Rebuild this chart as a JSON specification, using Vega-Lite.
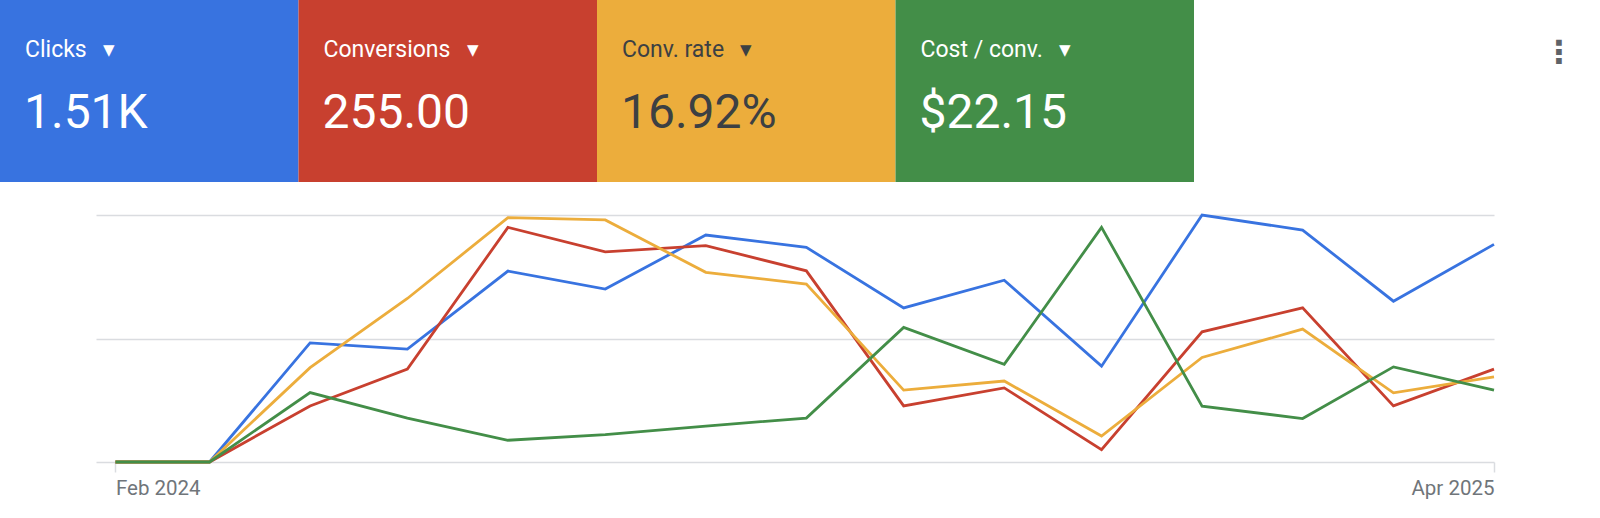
{
  "$schema": "https://vega.github.io/schema/vega-lite/v6.json",
  "background": "white",
  "padding": 0,
  "spacing": 27,
  "datasets": {
    "tiles": [
      {"metric": "Clicks", "total": "1.51K"},
      {"metric": "Conversions", "total": "255.00"},
      {"metric": "Conv. rate", "total": "16.92%"},
      {"metric": "Cost / conv.", "total": "$22.15"}
    ],
    "trend": [
      {"month": "2024-02-01", "metric": "Clicks", "value": 0},
      {"month": "2024-03-01", "metric": "Clicks", "value": 0},
      {"month": "2024-04-01", "metric": "Clicks", "value": 48.2},
      {"month": "2024-05-01", "metric": "Clicks", "value": 45.7},
      {"month": "2024-06-01", "metric": "Clicks", "value": 77.3},
      {"month": "2024-07-01", "metric": "Clicks", "value": 70.0},
      {"month": "2024-08-01", "metric": "Clicks", "value": 91.9},
      {"month": "2024-09-01", "metric": "Clicks", "value": 86.9},
      {"month": "2024-10-01", "metric": "Clicks", "value": 62.4},
      {"month": "2024-11-01", "metric": "Clicks", "value": 73.6},
      {"month": "2024-12-01", "metric": "Clicks", "value": 38.8},
      {"month": "2025-01-01", "metric": "Clicks", "value": 100},
      {"month": "2025-02-01", "metric": "Clicks", "value": 93.9},
      {"month": "2025-03-01", "metric": "Clicks", "value": 65.1},
      {"month": "2025-04-01", "metric": "Clicks", "value": 88.1},
      {"month": "2024-02-01", "metric": "Conversions", "value": 0},
      {"month": "2024-03-01", "metric": "Conversions", "value": 0},
      {"month": "2024-04-01", "metric": "Conversions", "value": 22.7},
      {"month": "2024-05-01", "metric": "Conversions", "value": 37.6},
      {"month": "2024-06-01", "metric": "Conversions", "value": 95.0},
      {"month": "2024-07-01", "metric": "Conversions", "value": 85.1},
      {"month": "2024-08-01", "metric": "Conversions", "value": 87.6},
      {"month": "2024-09-01", "metric": "Conversions", "value": 77.4},
      {"month": "2024-10-01", "metric": "Conversions", "value": 22.7},
      {"month": "2024-11-01", "metric": "Conversions", "value": 30.0},
      {"month": "2024-12-01", "metric": "Conversions", "value": 5.0},
      {"month": "2025-01-01", "metric": "Conversions", "value": 52.7},
      {"month": "2025-02-01", "metric": "Conversions", "value": 62.4},
      {"month": "2025-03-01", "metric": "Conversions", "value": 22.7},
      {"month": "2025-04-01", "metric": "Conversions", "value": 37.6},
      {"month": "2024-02-01", "metric": "Conv. rate", "value": 0},
      {"month": "2024-03-01", "metric": "Conv. rate", "value": 0},
      {"month": "2024-04-01", "metric": "Conv. rate", "value": 38.2},
      {"month": "2024-05-01", "metric": "Conv. rate", "value": 66.2},
      {"month": "2024-06-01", "metric": "Conv. rate", "value": 98.9},
      {"month": "2024-07-01", "metric": "Conv. rate", "value": 98.0},
      {"month": "2024-08-01", "metric": "Conv. rate", "value": 76.8},
      {"month": "2024-09-01", "metric": "Conv. rate", "value": 72.0},
      {"month": "2024-10-01", "metric": "Conv. rate", "value": 29.1},
      {"month": "2024-11-01", "metric": "Conv. rate", "value": 32.8},
      {"month": "2024-12-01", "metric": "Conv. rate", "value": 10.5},
      {"month": "2025-01-01", "metric": "Conv. rate", "value": 42.3},
      {"month": "2025-02-01", "metric": "Conv. rate", "value": 53.8},
      {"month": "2025-03-01", "metric": "Conv. rate", "value": 28.0},
      {"month": "2025-04-01", "metric": "Conv. rate", "value": 34.5},
      {"month": "2024-02-01", "metric": "Cost / conv.", "value": 0},
      {"month": "2024-03-01", "metric": "Cost / conv.", "value": 0},
      {"month": "2024-04-01", "metric": "Cost / conv.", "value": 28.1},
      {"month": "2024-05-01", "metric": "Cost / conv.", "value": 17.8},
      {"month": "2024-06-01", "metric": "Cost / conv.", "value": 8.8},
      {"month": "2024-07-01", "metric": "Cost / conv.", "value": 11.1},
      {"month": "2024-08-01", "metric": "Cost / conv.", "value": 14.5},
      {"month": "2024-09-01", "metric": "Cost / conv.", "value": 17.8},
      {"month": "2024-10-01", "metric": "Cost / conv.", "value": 54.5},
      {"month": "2024-11-01", "metric": "Cost / conv.", "value": 39.5},
      {"month": "2024-12-01", "metric": "Cost / conv.", "value": 95.0},
      {"month": "2025-01-01", "metric": "Cost / conv.", "value": 22.6},
      {"month": "2025-02-01", "metric": "Cost / conv.", "value": 17.6},
      {"month": "2025-03-01", "metric": "Cost / conv.", "value": 38.5},
      {"month": "2025-04-01", "metric": "Cost / conv.", "value": 29.1}
    ]
  },
  "vconcat": [
    {
      "spacing": 0,
      "hconcat": [
        {
          "width": 1194,
          "height": 182,
          "data": {"name": "tiles"},
          "transform": [{"calculate": "datum.metric + '\u2002\u2009▾'", "as": "label"}],
          "encoding": {
            "x": {
              "field": "metric",
              "type": "nominal",
              "sort": null,
              "scale": {"paddingInner": 0, "paddingOuter": 0},
              "axis": null
            }
          },
          "layer": [
            {
              "mark": {"type": "rect"},
              "encoding": {
                "color": {
                  "field": "metric",
                  "type": "nominal",
                  "scale": {
                    "domain": ["Clicks", "Conversions", "Conv. rate", "Cost / conv."],
                    "range": ["#3873e0", "#c8402f", "#ecad3c", "#438e48"]
                  },
                  "legend": null
                }
              }
            },
            {
              "mark": {"type": "text", "align": "left", "baseline": "alphabetic", "dx": 25, "dy": -34.5, "fontSize": 23},
              "encoding": {
                "x": {"field": "metric", "type": "nominal", "sort": null, "bandPosition": 0},
                "text": {"field": "label"},
                "color": {
                  "condition": {"test": "datum.metric === 'Conv. rate'", "value": "#3c4043"},
                  "value": "#ffffff"
                }
              }
            },
            {
              "mark": {"type": "text", "align": "left", "baseline": "alphabetic", "dx": 24, "dy": 37, "fontSize": 48},
              "encoding": {
                "x": {"field": "metric", "type": "nominal", "sort": null, "bandPosition": 0},
                "text": {"field": "total"},
                "color": {
                  "condition": {"test": "datum.metric === 'Conv. rate'", "value": "#3c4043"},
                  "value": "#ffffff"
                }
              }
            }
          ]
        },
        {
          "width": 406,
          "height": 182,
          "data": {"values": [{}]},
          "mark": {
            "type": "text",
            "text": "⋮",
            "font": "DejaVu Sans",
            "fontWeight": "bold",
            "fontSize": 32,
            "baseline": "middle",
            "align": "center",
            "dx": 162,
            "dy": -38.5,
            "color": "#5f6368"
          }
        }
      ]
    },
    {
      "spacing": 0,
      "hconcat": [
        {
          "width": 96,
          "height": 247,
          "data": {"values": [{}]},
          "mark": {"type": "text", "text": ""}
        },
        {
          "width": 1398,
          "height": 247,
          "data": {"name": "trend"},
          "mark": {"type": "line", "strokeWidth": 2.8},
          "encoding": {
            "x": {
              "field": "month",
              "type": "temporal",
              "scale": {
                "type": "utc",
                "domain": [
                  {"year": 2024, "month": 1, "date": 26, "utc": true},
                  {"year": 2025, "month": 4, "date": 1, "utc": true}
                ]
              },
              "axis": {
                "values": [
                  {"year": 2024, "month": 2, "date": 1, "utc": true},
                  {"year": 2025, "month": 4, "date": 1, "utc": true}
                ],
                "format": "%b %Y",
                "labelAlign": {"condition": {"test": "datum.index === 0", "value": "left"}, "value": "right"},
                "grid": false,
                "domain": false,
                "tickSize": 10,
                "tickColor": "#dadce0",
                "tickWidth": 1.5,
                "labelPadding": 6,
                "labelFontSize": 20.5,
                "labelColor": "#70757a",
                "title": null
              }
            },
            "y": {
              "field": "value",
              "type": "quantitative",
              "scale": {"domain": [0, 100], "nice": false},
              "axis": {
                "values": [0, 50, 100],
                "labels": false,
                "ticks": false,
                "domain": false,
                "title": null,
                "gridColor": "#dadce0",
                "gridWidth": 1.5
              }
            },
            "color": {
              "field": "metric",
              "type": "nominal",
              "scale": {
                "domain": ["Clicks", "Conversions", "Conv. rate", "Cost / conv."],
                "range": ["#3873e0", "#c8402f", "#ecad3c", "#438e48"]
              },
              "legend": null
            }
          }
        }
      ]
    }
  ],
  "config": {
    "font": "Roboto",
    "view": {"stroke": null}
  }
}
